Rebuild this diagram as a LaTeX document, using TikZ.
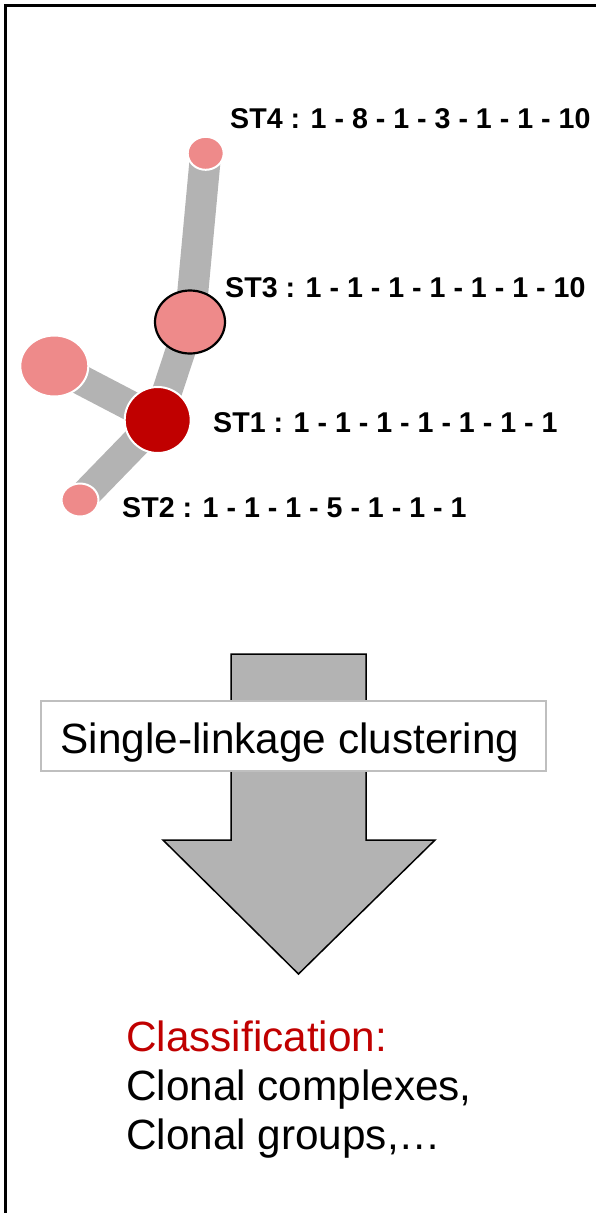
\documentclass[tikz,border=0pt]{standalone}
\usepackage{fontspec}
\setmainfont{Liberation Sans}
\usetikzlibrary{shapes.geometric,backgrounds}
\definecolor{pinknode}{HTML}{EE8A8A}
\definecolor{darkrednode}{HTML}{C00000}
\definecolor{edgegray}{HTML}{B3B3B3}
\definecolor{boxgray}{HTML}{BFBFBF}
\tikzset{
  stnode/.style={ellipse, inner sep=0pt, draw=white, line width=2pt},
  stedge/.style={edgegray, line width=30pt},
  stlabel/.style={anchor=base west, inner sep=0pt, font=\fontsize{28.6}{34}\selectfont\bfseries},
  bigtext/.style={anchor=base west, inner sep=0pt, font=\fontsize{42.3}{49}\selectfont},
}
\begin{document}
\begin{tikzpicture}[x=1pt,y=-1pt]
\useasboundingbox (0,0) rectangle (596,1213);
% frame (top and left lines only)
\draw[line width=3pt] (596,5) -- (5,5) -- (5,1213);

% nodes
\node[stnode, fill=pinknode, minimum width=36pt, minimum height=33pt] (st4) at (205.7,153.3) {};
\node[stnode, fill=pinknode, draw=black, line width=2.2pt, minimum width=70pt, minimum height=63pt] (st3) at (190,322) {};
\node[stnode, fill=pinknode, minimum width=68pt, minimum height=61pt] (stx) at (54.3,366) {};
\node[stnode, fill=darkrednode, minimum width=66pt, minimum height=66pt] (st1) at (157.7,420) {};
\node[stnode, fill=pinknode, minimum width=37pt, minimum height=33pt] (st2) at (80,500) {};

% edges behind nodes
\begin{scope}[on background layer]
\draw[stedge, line width=31pt] (st4.center) -- (st3.center);
\draw[stedge] (st3.center) -- (st1.center);
\draw[stedge] (stx.center) -- (st1.center);
\draw[stedge] (st2.center) -- (st1.center);
\end{scope}

% labels
\node[stlabel] (l4) at (230,128) {ST4 : 1 - 8 - 1 - 3 - 1 - 1 - 10};
\node[stlabel] (l3) at (225,297) {ST3 : 1 - 1 - 1 - 1 - 1 - 1 - 10};
\node[stlabel] (l1) at (213,432) {ST1 : 1 - 1 - 1 - 1 - 1 - 1 - 1};
\node[stlabel] (l2) at (122,517) {ST2 : 1 - 1 - 1 - 5 - 1 - 1 - 1};

% big arrow
\draw[fill=edgegray, line width=1.5pt, line join=miter]
  (231,654) -- (366,654) -- (366,840) -- (435,840) -- (298.5,974) -- (163,840) -- (231,840) -- cycle;

% text box
\node[draw=boxgray, fill=white, line width=2pt, minimum width=505pt, minimum height=70pt, inner sep=0pt] (box) at (293.2,736) {};
\node[bigtext] (boxlabel) at (60.5,753) {Single-linkage clustering};

% classification text
\node[bigtext, text=darkrednode] (c1) at (126,1051) {Classification:};
\node[bigtext] (c2) at (126,1100) {Clonal complexes,};
\node[bigtext] (c3) at (126,1149) {Clonal groups,…};
\end{tikzpicture}
\end{document}
